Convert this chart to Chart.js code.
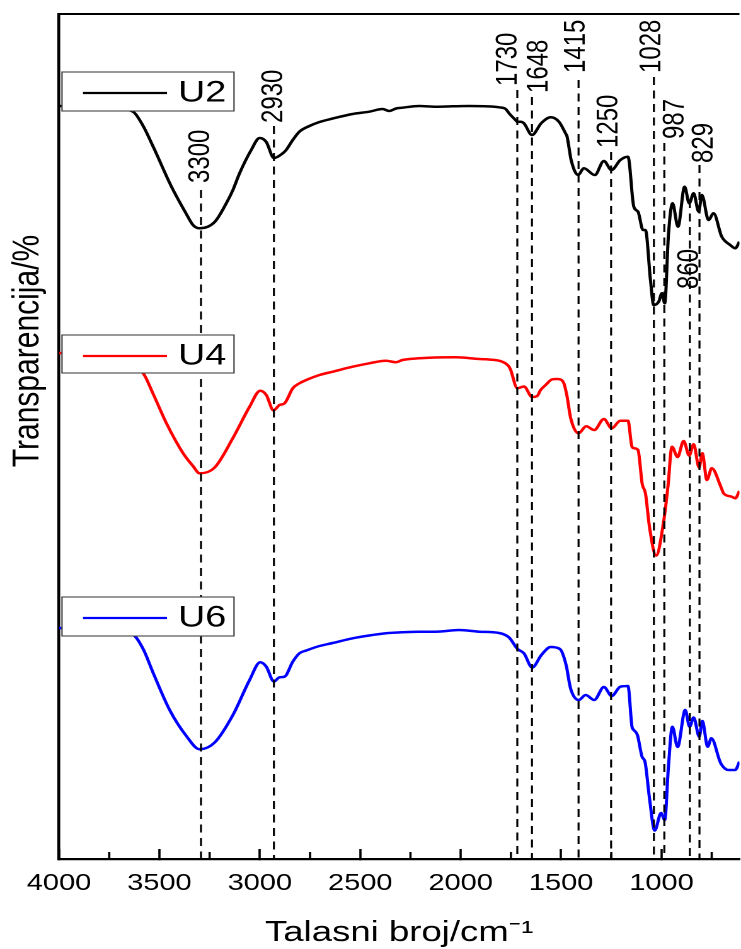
<!DOCTYPE html>
<html>
<head>
<meta charset="utf-8">
<script src="https://cdn.jsdelivr.net/npm/chart.js@4.4.1/dist/chart.umd.min.js"></script>
<style>
html,body{margin:0;padding:0;background:#ffffff;overflow:hidden;width:741px;height:949px;}
#wrap{position:absolute;left:0;top:0;width:588px;height:949px;transform:scaleX(1.2602);transform-origin:0 0;}
</style>
</head>
<body>
<div id="wrap"><canvas id="c"></canvas></div>
<script>
// ---------- DATA ----------
const seriesNames = ['U2', 'U4', 'U6'];

const wnU2 = [4000,3800,3700,3631,3581,3531,3440,3366,3333,3300,3225,3167,3134,3101,3043,3001,2968,2930,2886,2869,2836,2803,2753,2703,2637,2538,2455,2389,2356,2322,2290,2207,2124,2040,1958,1880,1809,1776,1759,1727,1718,1702,1685,1645,1598,1552,1511,1478,1470,1450,1415,1387,1332,1287,1249,1205,1167,1138,1117,1092,1080,1055,1039,1014,998,984,965,945,918,885,862,840,815,799,766,741,700,658,633,612];
const tU2 = [75.3,75.2,75.0,74.73,73.3,71.23,67.23,64.5,63.4,63.07,63.7,65.57,66.9,68.57,70.9,72.1,71.7,70.1,70.57,70.9,71.9,72.73,73.3,73.7,74.05,74.5,74.73,75.0,74.8,75.05,75.13,75.3,75.23,75.27,75.3,75.27,75.17,75.0,74.57,73.9,73.73,73.73,73.57,72.4,73.6,74.17,73.73,72.57,72.23,69.9,68.4,69.07,68.4,69.8,68.9,69.9,70.23,65.23,64.73,62.9,62.9,57.9,55.4,55.73,56.57,55.57,62.57,65.57,63.23,67.23,65.57,66.57,64.73,66.4,63.9,64.57,62.23,61.4,61.07,61.73];

const wnU4 = [4000,3800,3700,3581,3531,3465,3382,3333,3300,3225,3134,3051,2998,2968,2932,2902,2877,2836,2803,2769,2703,2637,2538,2455,2372,2322,2290,2207,2157,2024,1908,1875,1793,1759,1751,1718,1685,1644,1619,1602,1577,1544,1519,1498,1486,1470,1453,1413,1375,1335,1287,1248,1205,1167,1147,1134,1117,1096,1080,1060,1027,989,968,948,920,890,862,840,813,797,774,750,704,691,650,633,612];
const tU4 = [50.6,50.3,49.7,48.57,46.5,43.57,40.57,39.3,38.57,39.15,42.1,45.23,46.83,46.4,44.87,45.4,45.57,47.07,47.57,47.9,48.4,48.73,49.23,49.57,49.83,49.67,49.9,50.07,50.13,50.17,50.0,49.97,49.73,49.23,48.9,47.07,47.25,46.2,46.3,46.9,47.4,47.97,48.0,47.9,47.57,46.23,44.15,42.57,43.27,42.9,44.0,43.07,43.83,43.83,41.23,41.07,40.9,37.5,36.57,33.23,30.35,33.8,37.23,41.23,40.2,41.8,40.35,41.48,39.15,40.57,37.9,39.07,37.2,36.57,36.23,36.07,36.8];

const wnU6 = [4000,3800,3700,3631,3581,3531,3449,3366,3300,3225,3134,3051,2998,2968,2930,2902,2877,2836,2803,2769,2703,2637,2538,2455,2372,2290,2207,2124,2008,1908,1809,1759,1718,1685,1644,1598,1552,1506,1475,1453,1412,1378,1335,1287,1248,1205,1167,1147,1138,1120,1097,1082,1060,1034,1002,984,965,946,920,882,860,840,812,797,770,752,705,666,633,612];
const tU6 = [23.1,22.9,22.6,22.4,21.0,18.6,14.9,12.3,10.97,11.65,14.4,17.9,19.67,19.23,17.75,18.17,18.23,19.73,20.57,20.85,21.3,21.6,22.07,22.35,22.57,22.67,22.73,22.73,22.9,22.73,22.6,22.15,21.02,20.57,19.15,20.4,21.2,21.0,19.4,17.07,15.9,16.4,15.9,17.2,16.3,17.23,17.3,13.23,12.9,12.4,10.23,9.7,6.1,2.85,4.6,3.9,9.4,13.23,11.2,14.9,13.23,14.15,12.23,13.8,11.23,12.07,9.57,8.9,8.9,9.73];

const xTickValues = [4000,3500,3000,2500,2000,1500,1000];
const xMinorTickValues = [3750,3250,2750,2250,1750,1250,750];

const peakLabels = ['3300','2930','1730','1648','1415','1250','1028','987','860','829'];
const peakPositions = [3293,2930,1718,1645,1413,1251,1038,986,859,811];

// ---------- LAYOUT / STYLE ----------
const S = 1.2602;                 // horizontal stretch of the whole figure
const FONT = '"Liberation Sans", Arial, Helvetica, sans-serif';
const colors = ['#000000', '#ff0000', '#0000ff'];
// peak line top / label start in y-units, label x shift in px
const peakLayout = [
  {lineTop:66.9, labelStart:67.6, dx:0},
  {lineTop:73.3, labelStart:73.6, dx:0},
  {lineTop:76.9, labelStart:77.3, dx:-9},
  {lineTop:76.2, labelStart:76.6, dx:7},
  {lineTop:77.9, labelStart:78.6, dx:-2},
  {lineTop:70.7, labelStart:71.1, dx:-2},
  {lineTop:78.2, labelStart:78.6, dx:-2},
  {lineTop:71.6, labelStart:72.0, dx:11},
  {lineTop:65.9, labelStart:57.0, dx:0},
  {lineTop:69.4, labelStart:69.6, dx:5}
];
const legendLayout = [{top:72,h:39},{top:335,h:38},{top:597,h:39}];

const wnAll = [wnU2, wnU4, wnU6];
const tAll = [tU2, tU4, tU6];

const datasets = seriesNames.map((name, k) => ({
  label: name,
  data: wnAll[k].map((w, i) => ({x: w, y: tAll[k][i]})),
  borderColor: colors[k],
  backgroundColor: colors[k],
  borderWidth: 2.5,
  pointRadius: 0,
  fill: false,
  cubicInterpolationMode: 'monotone'
}));

const decor = {
  id: 'decor',
  afterDatasetsDraw(chart) {
    const {ctx, chartArea: a, scales: {x, y}} = chart;
    ctx.save();
    ctx.strokeStyle = '#000';
    ctx.lineWidth = 1.6;
    ctx.setLineDash([8, 5.5]);
    peakPositions.forEach((p, i) => {
      const px = x.getPixelForValue(p);
      ctx.beginPath();
      ctx.moveTo(px, y.getPixelForValue(peakLayout[i].lineTop));
      ctx.lineTo(px, a.bottom);
      ctx.stroke();
    });
    ctx.setLineDash([]);
    ctx.fillStyle = '#000';
    ctx.font = '24px ' + FONT;
    ctx.textAlign = 'left';
    ctx.textBaseline = 'middle';
    peakLabels.forEach((t, i) => {
      const L = peakLayout[i];
      const px = x.getPixelForValue(peakPositions[i]) + L.dx / S;
      const py = y.getPixelForValue(L.labelStart);
      ctx.save();
      ctx.translate(px, py);
      ctx.rotate(-Math.PI / 2);
      ctx.fillText(t, 0, 0);
      ctx.restore();
    });
    const bx0 = 62 / S, bx1 = 234 / S;
    chart.data.datasets.forEach((ds, k) => {
      const L = legendLayout[k];
      ctx.fillStyle = '#ffffff';
      ctx.fillRect(bx0, L.top, bx1 - bx0, L.h);
      ctx.strokeStyle = '#444';
      ctx.lineWidth = 1.1;
      ctx.strokeRect(bx0, L.top, bx1 - bx0, L.h);
      ctx.strokeStyle = ds.borderColor;
      ctx.lineWidth = 2.2;
      ctx.beginPath();
      ctx.moveTo(83 / S, L.top + 21);
      ctx.lineTo(167 / S, L.top + 21);
      ctx.stroke();
      ctx.fillStyle = '#000';
      ctx.font = '30px ' + FONT;
      ctx.textAlign = 'left';
      ctx.textBaseline = 'middle';
      ctx.fillText(ds.label, 178 / S, L.top + 21);
    });
    ctx.restore();
  },
  afterDraw(chart) {
    const {ctx, chartArea: a, scales: {x}} = chart;
    ctx.save();
    ctx.strokeStyle = '#000';
    ctx.lineWidth = 2;
    ctx.beginPath();
    ctx.moveTo(a.left, a.top);
    ctx.lineTo(a.right, a.top);
    ctx.stroke();
    ctx.lineWidth = 1.8;
    xMinorTickValues.forEach(v => {
      const px = x.getPixelForValue(v);
      ctx.beginPath();
      ctx.moveTo(px, a.bottom);
      ctx.lineTo(px, a.bottom - 7);
      ctx.stroke();
    });
    ctx.fillStyle = '#000';
    ctx.font = '30px ' + FONT;
    ctx.textAlign = 'center';
    ctx.textBaseline = 'middle';
    ctx.translate(28 / S, 351);
    ctx.rotate(-Math.PI / 2);
    ctx.fillText('Transparencija/%', 0, 0);
    ctx.restore();
  }
};

new Chart(document.getElementById('c'), {
  type: 'line',
  data: { datasets },
  options: {
    responsive: true,
    maintainAspectRatio: false,
    animation: false,
    devicePixelRatio: 2,
    layout: { padding: { top: 14, left: 0, right: 0, bottom: 0 } },
    plugins: { legend: { display: false }, tooltip: { enabled: false } },
    scales: {
      x: {
        type: 'linear',
        reverse: true,
        min: 612,
        max: 4000,
        afterBuildTicks: s => { s.ticks = xTickValues.map(v => ({ value: v })); },
        afterFit: s => { s.height = 90; },
        ticks: {
          font: { family: FONT, size: 23 },
          color: '#000',
          padding: 20.7,
          maxRotation: 0,
          autoSkip: false,
          callback: v => String(v)
        },
        grid: {
          display: true, drawOnChartArea: false, drawTicks: true,
          tickLength: -10, tickWidth: 1.8, tickColor: '#000'
        },
        border: { display: true, color: '#000', width: 2.3 },
        title: {
          display: true,
          text: 'Talasni broj/cm\u207B\u00B9',
          color: '#000',
          font: { family: FONT, size: 29, lineHeight: 1.1 },
          padding: 0
        }
      },
      y: {
        type: 'linear',
        min: 0,
        max: 84.5,
        afterFit: s => { s.width = 59 / S; },
        ticks: { display: false },
        grid: { display: false },
        border: { display: true, color: '#000', width: 2.3 }
      }
    }
  },
  plugins: [decor]
});
</script>
</body>
</html>
